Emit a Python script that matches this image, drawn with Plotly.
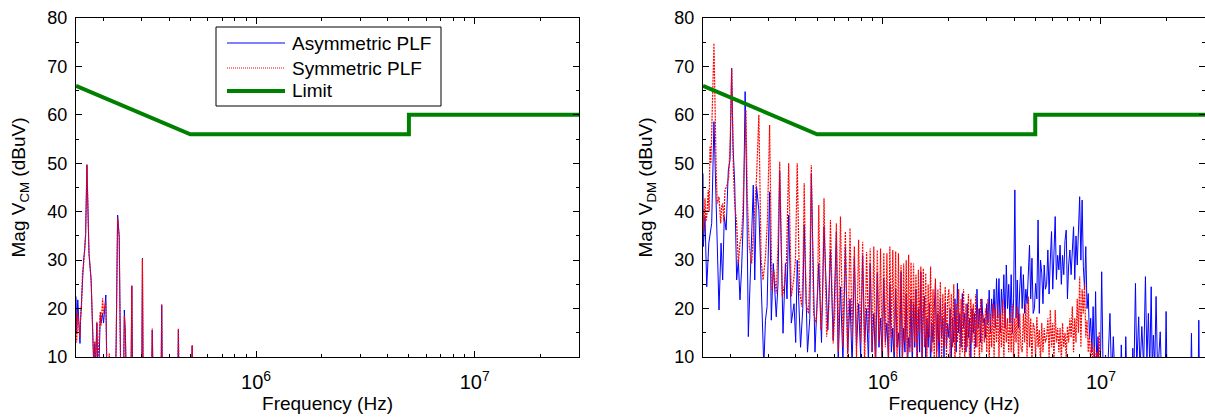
import math
import plotly.graph_objects as go

# ---------------- common-mode spectrum: frequency (kHz), level (dBuV) ----------------
cm_khz = [150, 151, 152.8, 154.8, 156.4, 157.4, 159, 160.6, 162.5, 164.4,
          166, 168.3, 170.5, 172, 175.9, 178.4, 180.8, 182.8, 184.4, 186.9,
          188.5, 191, 193.8, 195.5, 198.5, 200.5, 205.4, 207.5, 212, 213,
          214.5, 228, 229, 232.5, 236.5, 238.5, 240, 248, 249.6, 252.3,
          254, 268, 270, 272, 300, 302, 304, 333, 335, 337,
          368, 370, 372, 439, 441, 443, 508, 510, 512, 30000]
cm_asym = [22.5, 14.9, 21.8, 17, 12.8, 17.6, 21.8, 27.3, 30, 32.1,
           35.5, 49.6, 34.8, 31.4, 25.9, 15.6, 8, 12.8, 8, 17,
           8, 8, 18.7, 17, 19, 17, 22.8, 8, 8, 8,
           8, 8, 12.8, 39.3, 34.9, 17, 8, 8, 19.7, 14.9,
           8, 8, 24.7, 8, 8, 30.4, 8, 8, 15.6, 8,
           8, 20.7, 8, 8, 15.6, 8, 8, 12.3, 8, 8]
cm_sym = [20, 13, 19, 16, 14, 18, 20.5, 27.3, 29, 32.4,
          35, 49.8, 34.8, 31.4, 25.9, 16, 9, 13.3, 8, 17.3,
          8, 13, 19.3, 16.5, 22.1, 19, 21.5, 8, 8, 10.7,
          8, 8, 12.4, 38.8, 34.5, 16, 8, 8, 18.5, 15,
          8, 8, 24.7, 8, 8, 30.3, 8, 8, 15.9, 8,
          8, 21, 8, 8, 15.9, 8, 8, 12.5, 8, 8]

# ---------------- differential-mode spectrum ----------------
# low band, asymmetric PLF
dm_asym_lo_khz = [150, 150.5, 153.2, 156, 159.5, 164.4, 168.4, 172, 177.6, 181.5,
                  184.6, 187.8, 191.5, 196, 199.5, 203, 206, 209.6, 214, 217.8,
                  221.6, 225.4, 230, 234, 238, 242, 249, 255, 259, 264,
                  270.5, 275, 285, 290, 295, 303, 308.5, 315, 325, 331,
                  337, 349, 358, 364, 370.5, 381, 392, 399, 405.5, 420,
                  430, 436.5, 452, 463, 470.5, 489, 500, 509, 524, 538,
                  560, 576, 592.5, 613, 625]
dm_asym_lo = [47.9, 32.8, 39, 24.5, 33.5, 37.6, 58.6, 42.4, 19.7, 33.5,
              25.9, 39, 36.2, 48.6, 50.7, 69.6, 53.4, 45.9, 25.9, 30,
              21.8, 28, 40, 64.8, 44.5, 14.2, 30, 45.5, 25.9, 45.2,
              40.3, 28, 8, 17.6, 20.4, 44.1, 17.6, 29.3, 18.3, 25,
              48.3, 14.9, 29.3, 22, 39.3, 17, 21, 13, 30, 12,
              20, 37.3, 11, 18, 47.9, 11, 20, 29.3, 13, 36.9,
              15.6, 32.1, 13.5, 35.9, 9]

# low band, symmetric PLF
dm_sym_lo_khz = [150, 151.5, 153.2, 154.5, 156, 157.5, 158.6, 160, 161.5, 163,
                 164.4, 166.5, 168.4, 170.7, 172.5, 174.4, 177.6, 180.8, 182.5, 184.6,
                 187, 189.2, 192.6, 196.8, 200, 203, 206.7, 209.6, 214, 217.8,
                 221.6, 225, 228, 232, 236, 239.4, 244.5, 250.7, 255, 260,
                 264, 270.5, 277, 282.8, 290, 296, 303, 310.5, 317, 325,
                 331, 337, 346.5, 355, 362, 370.5, 381, 390.5, 398, 405.5,
                 415.5, 425.5, 431, 436.5, 445.5, 456.5, 463, 470.5, 482, 496,
                 503, 509, 520, 530, 538, 553, 566, 576, 592.5, 603,
                 613, 625]
dm_sym_lo = [40.4, 36, 42.8, 38, 39, 43, 44.5, 40, 53.4, 50,
             58.9, 66, 74.8, 56.9, 48, 41.7, 43.1, 37.6, 41, 41.7,
             38, 44.5, 45.2, 47.2, 55, 69.6, 48.6, 41.7, 37.6, 29.3,
             33.5, 35, 39, 50, 61, 43.1, 32.8, 29.3, 34.8, 40,
             47.2, 60, 30, 25.9, 30.7, 38, 57.9, 23.8, 28, 23.1,
             33, 50.3, 22.5, 25.2, 30, 50, 22.5, 25.9, 30, 50,
             23.8, 20.4, 28, 45.9, 21, 19, 27, 49.6, 19, 17,
             24, 41.4, 15.6, 22, 42.8, 14.2, 20, 38.3, 12.8, 19,
             37.6, 11]

# mid band (harmonic peaks and the troughs between them), both filters
dm_mid_khz = [640, 657, 674, 691, 708, 724, 741, 758, 775, 792,
              809, 826, 843, 860, 876, 893, 910, 927, 944, 961,
              977, 994, 1011, 1028, 1045, 1062, 1078, 1095, 1112, 1129,
              1146, 1163, 1180, 1196, 1213, 1230, 1247, 1264, 1281, 1298,
              1314, 1331, 1348]
dm_mid_asym = [24.5, 9, 32.8, 11, 22, 8, 30.7, 12, 21, 10,
               31, 13, 20, 9, 29.3, 11, 19, 8, 27.3, 12,
               18, 10, 26.2, 13, 17, 9, 25, 11, 16, 8,
               24, 12, 15, 10, 27.6, 9, 16, 11, 23.1, 8,
               14, 12, 22]
dm_mid_sym = [39, 12, 35.9, 9, 36.6, 14, 32.8, 10, 34.2, 13,
              33.8, 8, 31.7, 15, 32.4, 11, 32.8, 9, 32.1, 13,
              32.4, 10, 31.5, 12, 31.4, 8, 32.8, 14, 32.1, 11,
              31.8, 9, 31.4, 12, 29, 10, 29.3, 13, 30, 9,
              31.1, 11, 29.5]

# high band, both filters
dm_hi_khz = [1366, 1384, 1402, 1420, 1438, 1457, 1476, 1495, 1514, 1534,
             1554, 1574, 1594, 1615, 1636, 1657, 1678, 1700, 1722, 1744,
             1767, 1790, 1813, 1837, 1861, 1885, 1909, 1934, 1959, 1984,
             2010, 2036, 2062, 2089, 2116, 2143, 2171, 2199, 2228, 2257,
             2286, 2316, 2346, 2376, 2407, 2438, 2470, 2502, 2534, 2567,
             2600, 2634, 2668, 2703, 2738, 2774, 2810, 2846, 2883, 2921,
             2959, 2997, 3036, 3075, 3115, 3156, 3197, 3238, 3280, 3323,
             3366, 3410, 3454, 3499, 3544, 3590, 3637, 3684, 3732, 3780,
             3829, 3879, 3929, 3980, 4032, 4084, 4137, 4191, 4245, 4300,
             4356, 4413, 4470, 4528, 4587, 4647, 4707, 4768, 4830, 4893,
             4957, 5021, 5086, 5152, 5219, 5287, 5356, 5426, 5496, 5567,
             5640, 5713, 5787, 5862, 5938, 6015, 6094, 6173, 6253, 6334,
             6417, 6500, 6585, 6670, 6757, 6845, 6934, 7024, 7115, 7207,
             7301, 7396, 7492, 7589, 7688, 7788, 7889, 7992, 8096, 8201,
             8308, 8416, 8525, 8636, 8748, 8862, 8977, 9094, 9212, 9332,
             9453, 9576, 9700, 9826, 9954, 10083]
dm_hi_asym = [8, 21, 12, 24, 7, 20, 11, 27.6, 9, 19,
              22.5, 9, 18, 12, 21, 8, 17, 13, 20, 25.2,
              11, 19, 9, 22, 14, 18, 10, 21, 12, 17,
              14, 20, 10, 18, 13, 22, 11, 25.2, 15, 19,
              12, 23.1, 16, 19, 11, 21, 14, 18, 10, 20,
              15, 19, 12, 24, 16, 20, 13, 22, 17, 18,
              14, 21, 17, 23.8, 15, 22, 18, 24, 16, 26.2,
              18, 26.2, 15, 24, 19, 27, 16, 29, 20, 25,
              17, 27, 15, 22, 44.5, 18, 25.9, 16, 24, 28.7,
              20, 27, 19, 24, 21, 29, 33.1, 22, 30.4, 19,
              20, 25.2, 22, 38.3, 19, 30, 27.3, 21, 29, 24,
              25, 32.1, 23, 30, 35.9, 24, 33, 39, 26, 31,
              28, 33.1, 25, 31, 27, 34, 36.2, 22, 29, 32.1,
              27, 33, 36.9, 26, 35, 29, 38, 43.1, 30, 42.4,
              28.7, 24, 32.8, 20, 23.1, 14, 18, 11, 20.4, 9,
              23.5, 8, 14.2, 6, 9, 27.6]
dm_hi_sym = [11, 29.3, 13, 27, 9, 28, 15, 28.7, 10, 28.3,
             12, 27.3, 10, 25, 14, 28.7, 11, 24, 9, 26.2,
             10, 24, 13, 25.5, 9, 23, 12, 24.5, 10, 22,
             24, 9, 23, 12, 25, 8, 21, 13, 24, 10,
             22, 11, 24, 9, 21, 12, 23, 8, 22, 13,
             21, 10, 23, 12, 20, 9, 22, 11, 19, 13,
             20, 11, 22, 9, 19, 12, 21, 10, 20, 13,
             21, 10, 19, 12, 21.8, 9, 20, 13, 18, 11,
             19, 11, 21, 10, 18, 13, 20.4, 9, 19, 12,
             11, 19, 13, 21, 10, 22.5, 12, 18, 9, 17,
             16, 10, 18.3, 12, 15.6, 9, 17, 11, 16, 13,
             14, 18, 10, 19.7, 12, 17, 9, 19.7, 13, 16,
             11, 16, 9, 17, 12, 15, 10, 16.3, 13, 18,
             14, 20.4, 11, 18, 13, 22, 15, 26.6, 12, 24,
             19, 25.2, 14, 17.6, 11, 15, 9, 13, 8, 12,
             9, 11, 7, 15.2, 6, 5]

# isolated spikes above 10 MHz, asymmetric PLF only
dm_tail_khz = [10250, 10500, 10700, 11000, 11200, 11400, 11600, 12300, 12400, 12550,
               12900, 13000, 13150, 13900, 14000, 14150, 14400, 14600, 14900, 15100,
               15400, 15700, 16000, 16250, 16500, 16750, 17000, 17200, 17400, 17650,
               17900, 18200, 18700, 19000, 19700, 19900, 20100, 25800, 26000, 26200,
               27900, 28100, 28300, 30000]
dm_tail_asym = [5, 10.4, 5, 19, 5, 14.2, 5, 5, 12.5, 5,
                5, 14.2, 5, 5, 11.8, 5, 25.2, 8, 18.3, 7,
                16.3, 8, 26.6, 9, 19, 8, 24.5, 7, 14.5, 8,
                22.5, 6, 15.2, 5, 5, 19.4, 5, 5, 14.9, 5,
                5, 17.6, 5, 5]

# ---------------- conducted-emission limit ----------------
limit_khz = [150, 500, 5000, 5000, 30000]
limit_dbuv = [66, 56, 56, 60, 60]

# ---------------- axis annotation ----------------
y_ticks = [10, 20, 30, 40, 50, 60, 70, 80]
y_minor = [15, 25, 35, 45, 55, 65, 75]
x_major_hz = [1e6, 1e7]
x_major_text = ["10<sup>6</sup>", "10<sup>7</sup>"]
x_minor_hz = [2e5, 3e5, 4e5, 5e5, 6e5, 7e5, 8e5, 9e5,
              2e6, 3e6, 4e6, 5e6, 6e6, 7e6, 8e6, 9e6, 2e7, 3e7]

FONT = "Liberation Sans, Arial, Helvetica, sans-serif"
BLUE = "rgb(0,0,255)"
RED = "rgb(255,0,0)"
GREEN = "rgb(0,128,0)"
RED_DASH = "2px,1px"
W, H = 1205, 419


def hz(khz):
    return [f * 1e3 for f in khz]


dm_asym_khz = dm_asym_lo_khz + dm_mid_khz + dm_hi_khz + dm_tail_khz
dm_asym = dm_asym_lo + dm_mid_asym + dm_hi_asym + dm_tail_asym
dm_sym_khz = dm_sym_lo_khz + dm_mid_khz + dm_hi_khz
dm_sym = dm_sym_lo + dm_mid_sym + dm_hi_sym

fig = go.Figure()
panels = [("x", "y", cm_khz, cm_asym, cm_khz, cm_sym),
          ("x2", "y2", dm_asym_khz, dm_asym, dm_sym_khz, dm_sym)]
for xa, ya, fa, va, fs, vs in panels:
    fig.add_trace(go.Scatter(x=hz(fa), y=va, mode="lines", xaxis=xa, yaxis=ya,
                             line=dict(color=BLUE, width=1), showlegend=False,
                             name="Asymmetric PLF"))
    fig.add_trace(go.Scatter(x=hz(fs), y=vs, mode="lines", xaxis=xa, yaxis=ya,
                             line=dict(color=RED, width=1.2, dash=RED_DASH),
                             showlegend=False, name="Symmetric PLF"))
    fig.add_trace(go.Scatter(x=hz(limit_khz), y=limit_dbuv, mode="lines",
                             xaxis=xa, yaxis=ya, line=dict(color=GREEN, width=4),
                             showlegend=False, name="Limit"))

tickfont = dict(family=FONT, size=18, color="black")
titlefont = dict(family=FONT, size=19, color="black")
x_range = [math.log10(1.5e5), math.log10(3e7)]


def xaxis(domain, anchor):
    return dict(type="log", range=x_range, domain=domain, anchor=anchor,
                showline=True, linecolor="black", linewidth=1, mirror="allticks",
                ticks="inside", ticklen=6, tickcolor="black", showgrid=False,
                zeroline=False, tickvals=x_major_hz, ticktext=x_major_text,
                tickfont=dict(family=FONT, size=20, color="black"),
                automargin=False, ticklabelstandoff=7,
                minor=dict(tickvals=x_minor_hz, ticks="inside", ticklen=3,
                           tickcolor="black", showgrid=False),
                title=dict(text="Frequency (Hz)", font=titlefont, standoff=4))


def yaxis(domain, anchor, title):
    return dict(range=[10, 80], domain=domain, anchor=anchor,
                showline=True, linecolor="black", linewidth=1, mirror="allticks",
                ticks="inside", ticklen=6, tickcolor="black", showgrid=False,
                zeroline=False, tickvals=y_ticks, tickfont=tickfont,
                automargin=False, ticklabelstandoff=4,
                minor=dict(tickvals=y_minor, ticks="inside", ticklen=3,
                           tickcolor="black", showgrid=False),
                title=dict(text=title, font=titlefont, standoff=16))


y_dom = [1 - 357 / H, 1 - 18 / H]
fig.update_layout(
    width=W, height=H,
    margin=dict(l=0, r=0, t=0, b=0),
    paper_bgcolor="white", plot_bgcolor="white",
    font=dict(family=FONT, color="black"),
    showlegend=False,
    xaxis=xaxis([76 / W, 579 / W], "y"),
    yaxis=yaxis(y_dom, "x", "Mag V<sub>CM</sub> (dBuV)"),
    xaxis2=xaxis([703 / W, 1.0], "y2"),
    yaxis2=yaxis(y_dom, "x2", "Mag V<sub>DM</sub> (dBuV)"),
)

# legend box drawn in the left panel
legend_box = dict(x0=216, x1=441, y0=27, y1=106)
legend_rows = [("Asymmetric PLF", dict(color=BLUE, width=1), 43),
               ("Symmetric PLF", dict(color=RED, width=1, dash="1px,1px"), 68),
               ("Limit", dict(color=GREEN, width=4), 91)]
fig.add_shape(type="rect", xref="paper", yref="paper",
              x0=legend_box["x0"] / W, x1=legend_box["x1"] / W,
              y0=1 - legend_box["y1"] / H, y1=1 - legend_box["y0"] / H,
              line=dict(color="black", width=1), fillcolor="white", layer="above")
for label, style, yy in legend_rows:
    fig.add_shape(type="line", xref="paper", yref="paper",
                  x0=227 / W, x1=285 / W, y0=1 - yy / H, y1=1 - yy / H,
                  line=style, layer="above")
    fig.add_annotation(text=label, xref="paper", yref="paper", x=290 / W,
                       y=1 - yy / H, xanchor="left", yanchor="middle",
                       showarrow=False, font=titlefont)

fig.write_html("out.html")
